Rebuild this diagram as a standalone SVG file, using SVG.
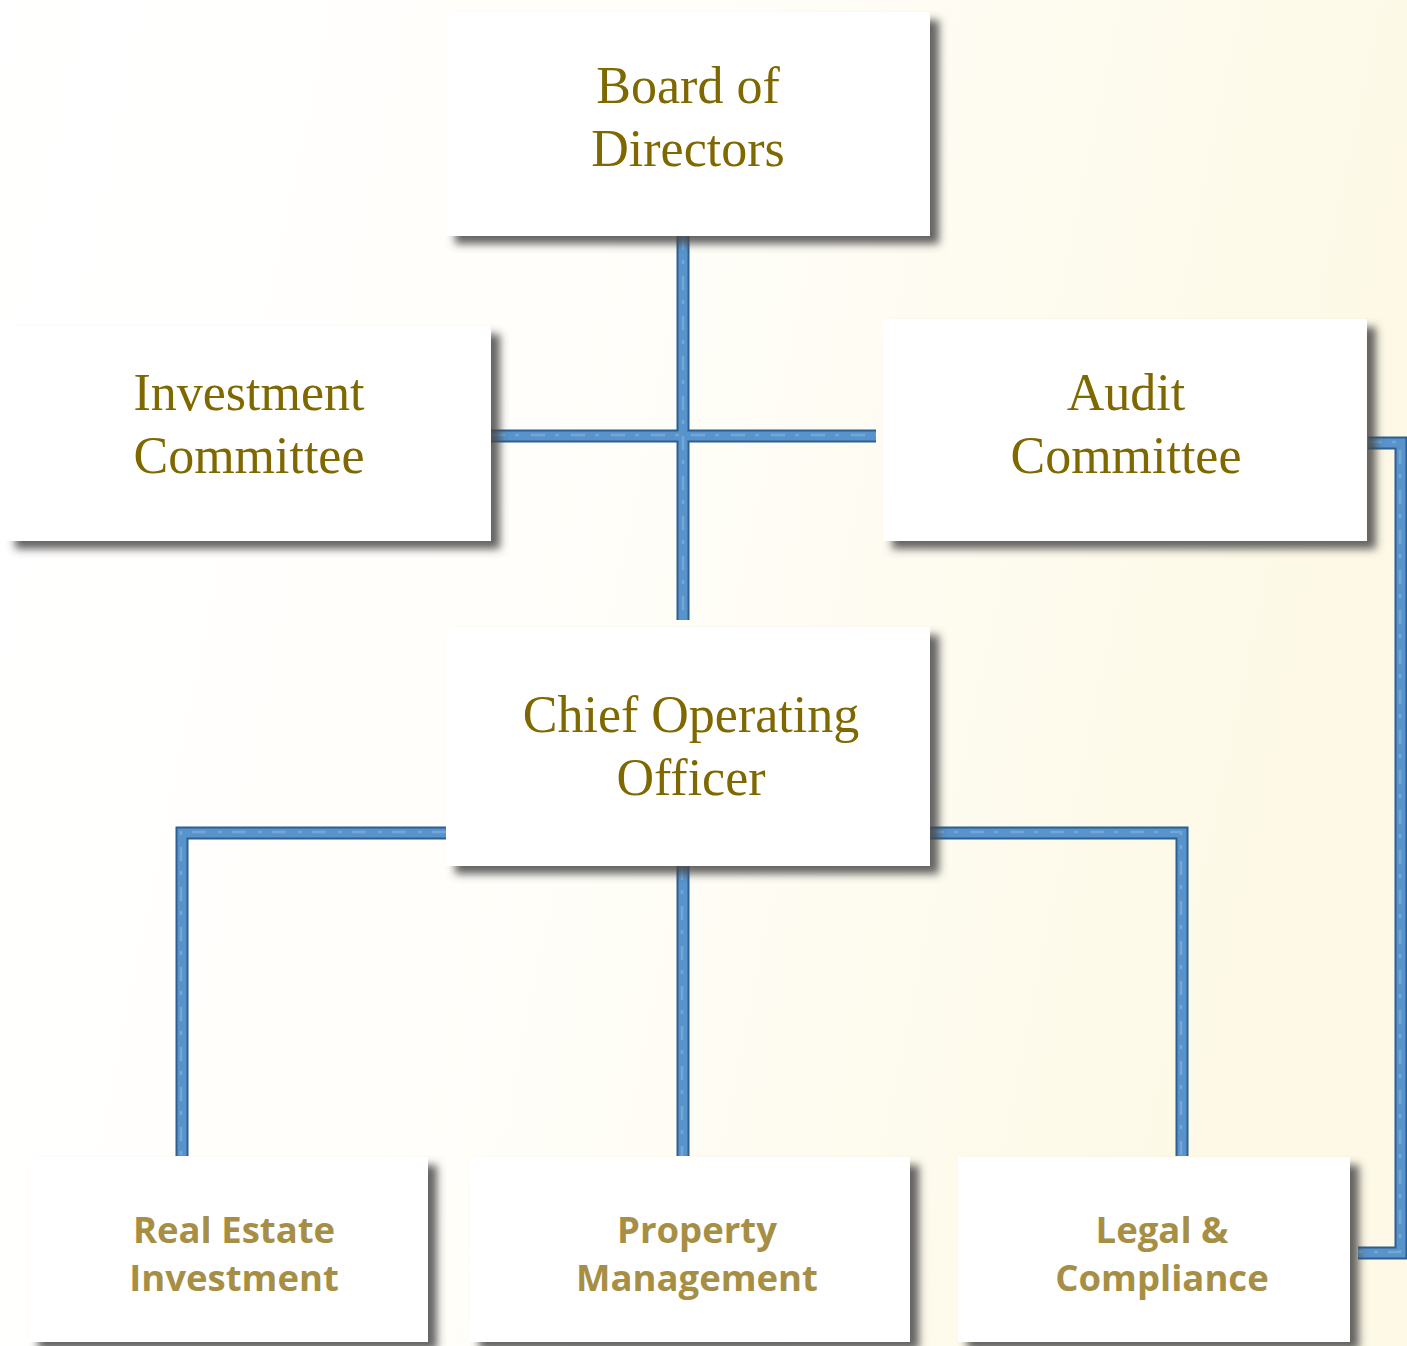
<svg xmlns="http://www.w3.org/2000/svg" width="1407" height="1346" viewBox="0 0 1407 1346">
<defs>
<linearGradient id="bg" x1="0" y1="0" x2="1" y2="0.2">
<stop offset="0" stop-color="#ffffff"/>
<stop offset="0.45" stop-color="#fffefa"/>
<stop offset="1" stop-color="#fdf9e6"/>
</linearGradient>
<filter id="sh" x="-10%" y="-10%" width="125%" height="130%">
<feDropShadow dx="9" dy="8" stdDeviation="4" flood-color="#4a4a4a" flood-opacity="0.85"/>
</filter>
<style>
.box{fill:#ffffff;filter:url(#sh)}
.t1{font-family:"Liberation Serif","Times New Roman",serif;font-size:52px;fill:#7f6800;text-anchor:middle}
.t2{font-family:"Open Sans","Liberation Sans",sans-serif;font-weight:700;font-size:36.5px;fill:#a68f45;text-anchor:middle}
.ro{fill:none;stroke:#2d5f92;stroke-width:13;stroke-linejoin:miter}
.ri{fill:none;stroke:#5894cb;stroke-width:9;stroke-linejoin:miter}
.rh{fill:none;stroke:#88b7e0;stroke-width:2.5;stroke-dasharray:14 10 4 12;opacity:0.55}
</style>
</defs>
<rect width="1407" height="1346" fill="url(#bg)"/>
<g id="connectors">
<g class="ro">
<path d="M683 236V620"/>
<path d="M491 436H876"/>
<path d="M446 833H182V1156"/>
<path d="M683 866V1156"/>
<path d="M930 833H1182V1156"/>
<path d="M1368 443H1401V1253H1358"/>
</g>
<g class="ri">
<path d="M683 236V620"/>
<path d="M491 436H876"/>
<path d="M446 833H182V1156"/>
<path d="M683 866V1156"/>
<path d="M930 833H1182V1156"/>
<path d="M1368 443H1401V1253H1358"/>
</g>
<g class="rh">
<path d="M683 236V620"/>
<path d="M491 435H876"/>
<path d="M446 832H181V1156"/>
<path d="M682 866V1156"/>
<path d="M930 832H1181V1156"/>
<path d="M1368 442H1400V1252H1358"/>
</g>
</g>
<g id="board">
<rect class="box" x="446" y="12" width="484" height="224"/>
<text class="t1" x="688" y="103">Board of</text>
<text class="t1" x="688" y="166">Directors</text>
</g>
<g id="investment">
<rect class="box" x="6" y="326" width="485" height="215"/>
<text class="t1" x="249" y="410">Investment</text>
<text class="t1" x="249" y="473">Committee</text>
</g>
<g id="audit">
<rect class="box" x="883" y="319" width="484" height="222"/>
<text class="t1" x="1126" y="410">Audit</text>
<text class="t1" x="1126" y="473">Committee</text>
</g>
<g id="coo">
<rect class="box" x="446" y="627" width="484" height="239"/>
<text class="t1" x="691" y="732">Chief Operating</text>
<text class="t1" x="691" y="795">Officer</text>
</g>
<g id="realestate">
<rect class="box" x="29" y="1157" width="399" height="185"/>
<text class="t2" x="234" y="1243">Real Estate</text>
<text class="t2" x="234" y="1291">Investment</text>
</g>
<g id="property">
<rect class="box" x="470" y="1157" width="440" height="185"/>
<text class="t2" x="697" y="1243">Property</text>
<text class="t2" x="697" y="1291">Management</text>
</g>
<g id="legal">
<rect class="box" x="958" y="1157" width="392" height="185"/>
<text class="t2" x="1162" y="1243">Legal &amp;</text>
<text class="t2" x="1162" y="1291">Compliance</text>
</g>
</svg>
